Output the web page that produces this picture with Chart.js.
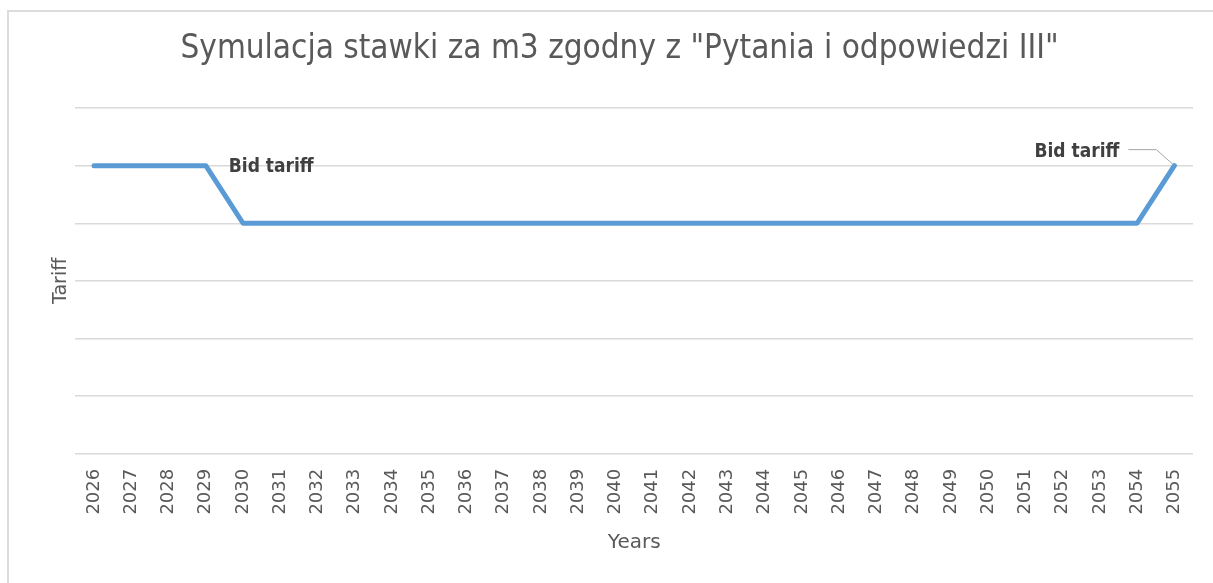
<!DOCTYPE html>
<html>
<head>
<meta charset="utf-8">
<script src="https://cdn.jsdelivr.net/npm/chart.js@4/dist/chart.umd.min.js"></script>
<style>
  html, body { margin: 0; padding: 0; background: #fff; }
  #wrap { position: relative; width: 1213px; height: 583px; overflow: hidden; }
  #frame { position: absolute; left: 7px; top: 10px; width: 1230px; height: 600px;
           border-left: 2px solid #dcdcdc; border-top: 2px solid #dcdcdc; pointer-events: none; }
</style>
</head>
<body>
<div id="wrap">
  <canvas id="tariffChart" width="1213" height="583"></canvas>
  <div id="frame"></div>
</div>
<script>
// years on the x axis
const years = [];
for (let y = 2026; y <= 2055; y++) years.push(String(y));

// tariff level (gridline units)
const tariff = [5, 5, 5, 5, 4, 4, 4, 4, 4, 4, 4, 4, 4, 4, 4, 4, 4, 4, 4, 4, 4, 4, 4, 4, 4, 4, 4, 4, 4, 5];

// labelled points: index into years
const bidLabels = [
    { idx: 3, text: "Bid tariff", side: "right" },
    { idx: 29, text: "Bid tariff", side: "left" }
];

const grey = "#595959";

const bidLabelPlugin = {
    id: "bidLabels",
    afterDatasetsDraw(chart) {
        const ctx = chart.ctx;
        const pts = chart.getDatasetMeta(0).data;
        ctx.save();
        ctx.font = "bold 19px 'DejaVu Sans Condensed', 'DejaVu Sans', sans-serif";
        ctx.fillStyle = "#404040";
        ctx.textBaseline = "middle";
        bidLabels.forEach(l => {
            const p = pts[l.idx];
            if (l.side === "right") {
                ctx.textAlign = "left";
                ctx.fillText(l.text, p.x + 23, p.y + 1);
            } else {
                ctx.textAlign = "right";
                ctx.fillText(l.text, p.x - 55, p.y - 14);
                ctx.strokeStyle = "#a6a6a6";
                ctx.lineWidth = 1;
                ctx.beginPath();
                ctx.moveTo(p.x - 46, p.y - 16);
                ctx.lineTo(p.x - 18, p.y - 16);
                ctx.lineTo(p.x, p.y);
                ctx.stroke();
            }
        });
        ctx.restore();
    }
};

new Chart(document.getElementById("tariffChart").getContext("2d"), {
    type: "line",
    data: {
        labels: years,
        datasets: [{
            label: "Tariff",
            data: tariff,
            borderColor: "#5B9BD5",
            borderWidth: 5,
            borderCapStyle: "round",
            borderJoinStyle: "round",
            pointRadius: 0,
            tension: 0,
            fill: false
        }]
    },
    options: {
        responsive: false,
        animation: false,
        layout: { padding: { left: 46, right: 20, top: 20, bottom: 24 } },
        plugins: {
            legend: { display: false },
            tooltip: { enabled: false },
            title: {
                display: true,
                text: 'Symulacja stawki za m3 zgodny z "Pytania i odpowiedzi III"',
                color: grey,
                font: { family: "'Liberation Sans Narrow', 'DejaVu Sans Condensed', sans-serif", size: 33, weight: "normal" },
                padding: { top: 10, bottom: 38.4 }
            }
        },
        scales: {
            x: {
                offset: true,
                grid: { display: false, drawTicks: false },
                border: { display: false },
                ticks: {
                    color: grey,
                    font: { family: "'DejaVu Sans', sans-serif", size: 18 },
                    minRotation: 90,
                    maxRotation: 90,
                    autoSkip: false,
                    padding: 15
                },
                title: {
                    display: true,
                    text: "Years",
                    color: grey,
                    font: { family: "'DejaVu Sans', sans-serif", size: 20 },
                    padding: { top: 1.4, bottom: 4 }
                }
            },
            y: {
                min: 0,
                max: 6,
                ticks: { display: false, stepSize: 1 },
                grid: { color: "#d9d9d9", lineWidth: 1.5, drawTicks: false },
                border: { display: false },
                title: {
                    display: true,
                    text: "Tariff",
                    color: grey,
                    font: { family: "'DejaVu Sans', sans-serif", size: 19 },
                    padding: { top: 4, bottom: 2.6 }
                }
            }
        }
    },
    plugins: [bidLabelPlugin]
});
</script>
</body>
</html>
